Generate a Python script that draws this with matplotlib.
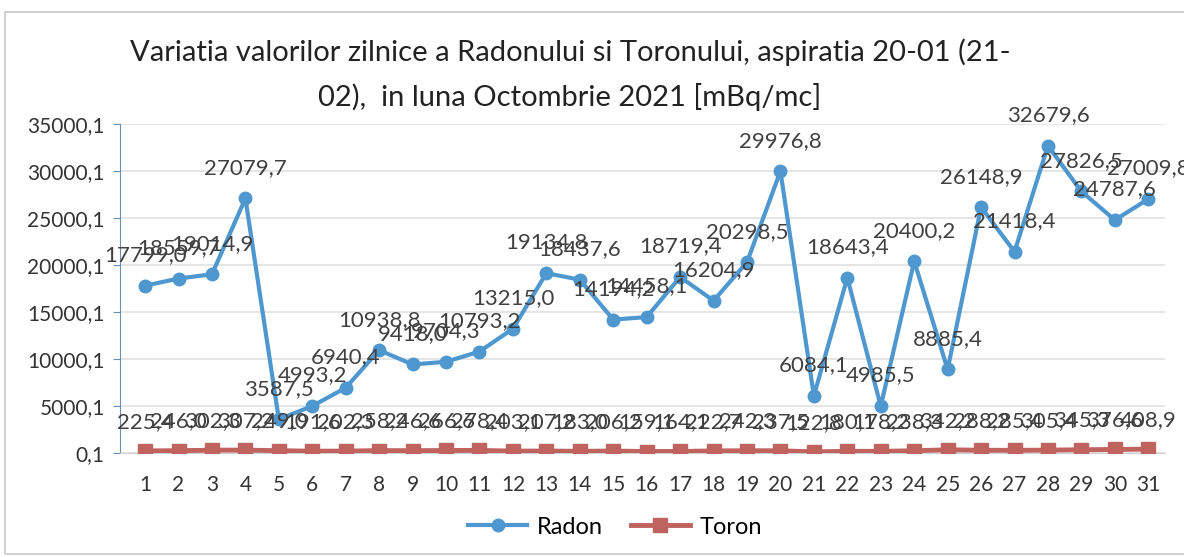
import matplotlib.pyplot as plt
from matplotlib.patches import Rectangle

days = list(range(1, 32))
radon = [17799.0, 18559.7, 19014.9, 27079.7, 3587.5, 4993.2, 6940.4, 10938.8, 9418.0, 9704.3,
         10793.2, 13215.0, 19134.8, 18437.6, 14194.2, 14458.1, 18719.4, 16204.9, 20298.5, 29976.8,
         6084.1, 18643.4, 4985.5, 20400.2, 8885.4, 26148.9, 21418.4, 32679.6, 27826.5, 24787.6, 27009.8]
toron = [225.4, 246.0, 302.3, 307.2, 249.0, 191.6, 202.3, 258.2, 246.6, 266.6,
         278.4, 203.1, 207.2, 183.0, 206.2, 159.1, 164.1, 222.7, 242.3, 237.5,
         122.8, 180.1, 178.2, 238.3, 342.2, 288.2, 285.4, 305.4, 345.3, 376.6, 408.9]
yticks = [0.1, 5000.1, 10000.1, 15000.1, 20000.1, 25000.1, 30000.1, 35000.1]

title = 'Variatia valorilor zilnice a Radonului si Toronului, aspiratia 20-01 (21-\n02),  in luna Octombrie 2021 [mBq/mc]'

plt.rcParams['font.family'] = ['Lato', 'DejaVu Sans']

def fmt(v):
    return ('%.1f' % v).replace('.', ',')

fig = plt.figure(figsize=(11.84, 5.57), dpi=100)
fig.patches.append(Rectangle((5 / 1184, 0.005), 1.2, 1 - 12 / 557 - 0.005, transform=fig.transFigure,
                             fill=False, edgecolor='#c8c8c8', linewidth=1.2))
ax = fig.add_axes([120 / 1184, 104 / 557, 1045 / 1184, 329 / 557])

ax.plot(days, radon, color='#4f97cf', linewidth=3, marker='o', markersize=9, label='Radon', zorder=3)
ax.plot(days, toron, color='#c0625e', linewidth=3.5, marker='s', markersize=10, label='Toron', zorder=3)

for d, v in zip(days, radon):
    ax.annotate(fmt(v), (d, v), xytext=(0, 22), textcoords='offset points',
                ha='center', va='center', fontsize=16, color='#404040', zorder=4)
for d, v in zip(days, toron):
    ax.annotate(fmt(v), (d, v), xytext=(0, 21), textcoords='offset points',
                ha='center', va='center', fontsize=16, color='#404040', zorder=4)

ax.set_xlim(0.25, 31.5)
ax.set_ylim(yticks[0], yticks[-1])
ax.set_xticks(days)
ax.set_xticklabels([str(d) for d in days], fontsize=15, color='#333333')
ax.set_yticks(yticks)
ax.set_yticklabels([fmt(v) for v in yticks], fontsize=15, color='#333333')
ax.tick_params(axis='x', length=0, pad=16)
ax.tick_params(axis='y', length=5, color='#6a8fb5', pad=6)
ax.grid(axis='y', color='#e0e0e0', linewidth=1.2)
ax.set_axisbelow(True)
for s in ['top', 'right']:
    ax.spines[s].set_visible(False)
ax.spines['left'].set_color('#6a8fb5')
ax.spines['bottom'].set_color('#d0d0d0')

fig.text(570 / 1184, 1 - 75 / 557, title, ha='center', va='center', fontsize=21,
         color='#222222', linespacing=1.75)
fig.legend(loc='center', bbox_to_anchor=(615 / 1184, 1 - 527 / 557), ncol=2, frameon=False,
           fontsize=17, handlelength=2.5, columnspacing=1.2, handletextpad=0.4)

fig.savefig('out.png', dpi=100)
